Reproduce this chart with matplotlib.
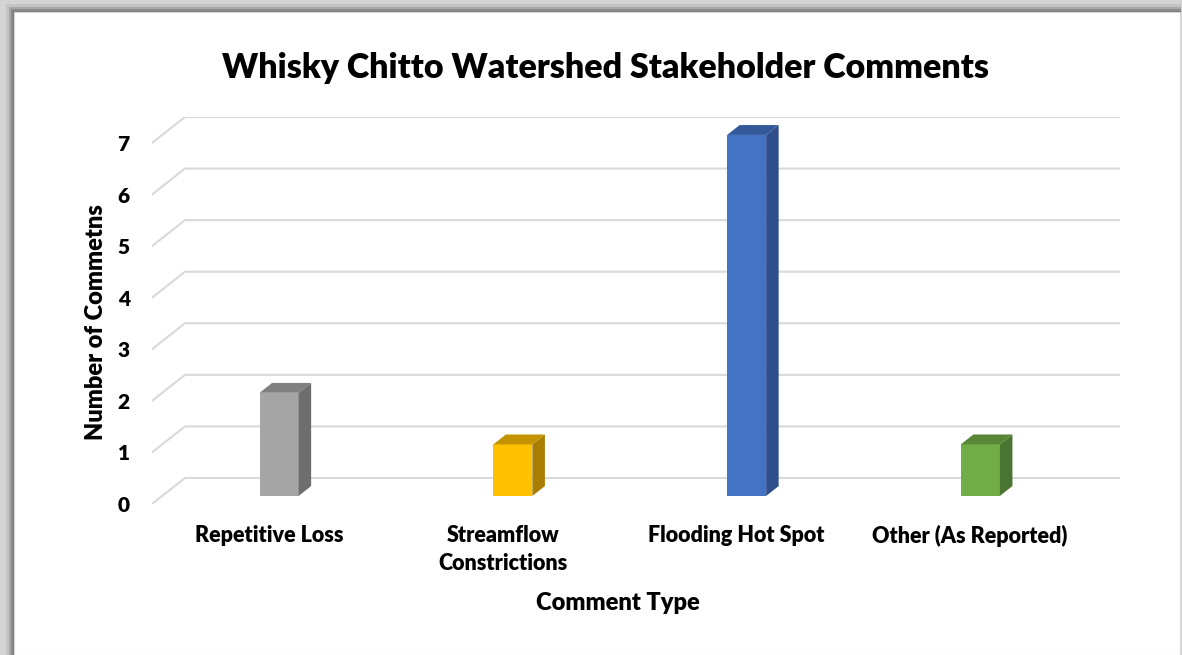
import matplotlib.pyplot as plt
from matplotlib.patches import Rectangle

categories = ["Repetitive Loss", "Streamflow\nConstrictions", "Flooding Hot Spot", "Other (As Reported)"]
counts = [2, 1, 7, 1]
front_colors = ["#A5A5A5", "#FFC000", "#4472C4", "#70AD47"]
side_colors = ["#6E6E6E", "#A87D00", "#2E4F8C", "#4A7530"]
top_colors = ["#808080", "#C39300", "#34599B", "#568636"]
yticks = list(range(8))

plt.rcParams["font.family"] = ["Lato", "DejaVu Sans"]
plt.rcParams["font.weight"] = "heavy"

W, H = 1182, 655
# fake 3d: depth of the back wall and of the bars, in data units
dx, dy = 0.141, 0.504
f0, f1 = 0.31, 0.69
bar_w = 0.167

fig = plt.figure(figsize=(W / 100, H / 100), dpi=100)
fig.patch.set_facecolor("#d4d4d4")

# card with a soft shadow on top / left
for k, c in [(8, "#c4c4c4"), (5, "#a8a8a8"), (3, "#8c8c8c"), (1, "#777777")]:
    fig.add_artist(Rectangle(((14 - k) / W, 0), (1181 - 14 + k) / W, (643 + k) / H,
                             transform=fig.transFigure, facecolor=c, edgecolor="none", zorder=0))
fig.add_artist(Rectangle((14 / W, 0), (1180 - 14) / W, 643 / H, transform=fig.transFigure,
                         facecolor="white", edgecolor="#d9d9d9", lw=0.8, zorder=0))

ax = fig.add_axes([152 / W, 1 - 504 / H, 968 / W, 387 / H])
ax.set_facecolor("none")
ax.set_xlim(0, len(categories) + dx)
ax.set_ylim(0, max(yticks) + dy)
for s in ax.spines.values():
    s.set_visible(False)

# gridlines: short diagonal on the floor side, then along the back wall
for v in yticks:
    ax.plot([0, dx, len(categories) + dx], [v, v + dy, v + dy], color="#d9d9d9", lw=1.5, zorder=1)

# bars
b0 = f0 * dy
ddx, ddy = (f1 - f0) * dx, (f1 - f0) * dy
xs = [i + 0.5 + f0 * dx for i in range(len(categories))]
ax.bar(xs, counts, width=bar_w, bottom=b0, color=front_colors, zorder=3)
for x, v, sc, tc in zip(xs, counts, side_colors, top_colors):
    xl, xr = x - bar_w / 2, x + bar_w / 2
    ax.fill([xr, xr + ddx, xr + ddx, xr], [b0, b0 + ddy, b0 + v + ddy, b0 + v], color=sc, lw=0, zorder=3)
    ax.fill([xl, xr, xr + ddx, xl + ddx], [b0 + v, b0 + v, b0 + v + ddy, b0 + v + ddy], color=tc, lw=0, zorder=3)

ax.set_yticks(yticks)
ax.set_yticklabels([str(v) for v in yticks])
ax.set_xticks([i + 0.5 for i in range(len(categories))])
ax.set_xticklabels(categories, linespacing=1.45)
ax.tick_params(axis="y", length=0, pad=16, labelsize=15)
ax.tick_params(axis="x", length=0, pad=15, labelsize=15.5)

fig.text(605 / W, 1 - 68 / H, "Whisky Chitto Watershed Stakeholder Comments", ha="center", va="center",
         fontsize=24.5)
fig.text(96 / W, 1 - 322 / H, "Number of Commetns", rotation=90, ha="center", va="center",
         fontsize=17)
fig.text(618 / W, 1 - 603 / H, "Comment Type", ha="center", va="center", fontsize=17)

fig.savefig("out.png", dpi=100, facecolor=fig.get_facecolor())
